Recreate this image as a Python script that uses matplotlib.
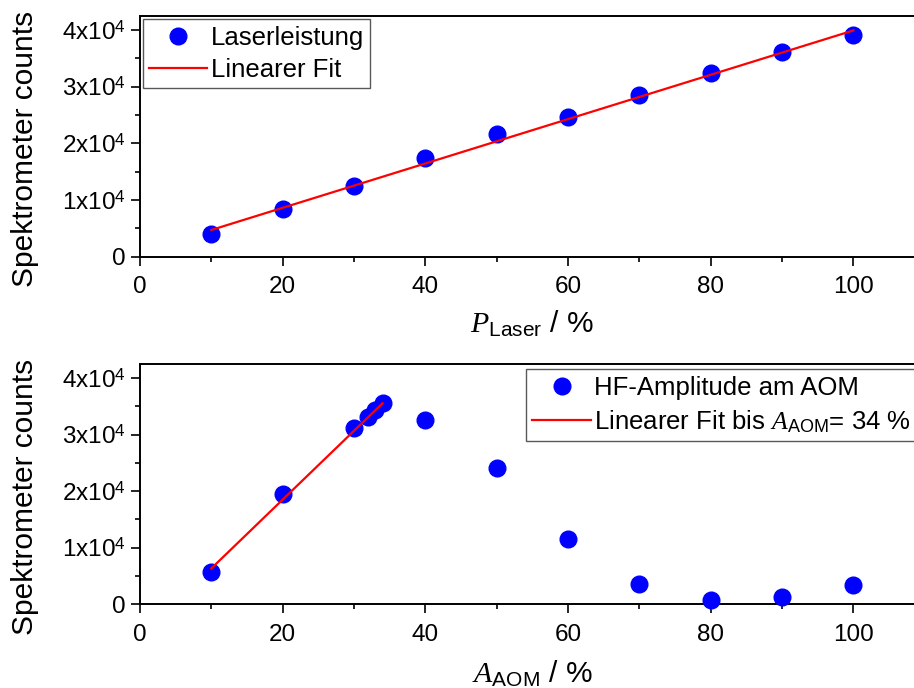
import matplotlib
matplotlib.use("Agg")
import matplotlib.pyplot as plt
from matplotlib.ticker import FixedLocator, FixedFormatter, MultipleLocator

plt.rcParams['font.family'] = ['Liberation Sans', 'DejaVu Sans']
plt.rcParams['mathtext.fontset'] = 'custom'
plt.rcParams['mathtext.rm'] = 'Liberation Sans'
plt.rcParams['mathtext.it'] = 'Liberation Serif:italic'
plt.rcParams['mathtext.bf'] = 'Liberation Sans:bold'

# ---- data ----
laser_x = [10, 20, 30, 40, 50, 60, 70, 80, 90, 100]
laser_y = [3960, 8440, 12570, 17350, 21660, 24600, 28620, 32390, 36170, 39060]
laser_fit_x = [10, 100]
laser_fit_y = [4720, 39950]

aom_x = [10, 20, 30, 32, 33, 34, 40, 50, 60, 70, 80, 90, 100]
aom_y = [5750, 19420, 31240, 33100, 34300, 35600, 32530, 24120, 11530, 3590, 750, 1240, 3410]
aom_fit_x = [10, 34]
aom_fit_y = [6350, 35550]

yticks = [0, 10000, 20000, 30000, 40000]
ytick_labels = ['0', r'1x10$^{4}$', r'2x10$^{4}$', r'3x10$^{4}$', r'4x10$^{4}$']
xticks = [0, 20, 40, 60, 80, 100]
xtick_labels = ['0', '20', '40', '60', '80', '100']

W, H = 914, 688
fig = plt.figure(figsize=(W / 100, H / 100), dpi=100)

x0 = 140 / W
wid = (924.7 - 140) / W
ax1 = fig.add_axes([x0, (H - 256.7) / H, wid, 240.7 / H])
ax2 = fig.add_axes([x0, (H - 604.3) / H, wid, 240.3 / H])

blue = '#0000ff'
red = '#ff0000'
tick_fs = 17.5
leg_fs = 18.5
lab_fs = 21.5

for ax in (ax1, ax2):
    ax.set_xlim(0, 110)
    ax.set_ylim(0, 42500)
    ax.xaxis.set_major_locator(FixedLocator(xticks))
    ax.xaxis.set_major_formatter(FixedFormatter(xtick_labels))
    ax.xaxis.set_minor_locator(MultipleLocator(10))
    ax.yaxis.set_major_locator(FixedLocator(yticks))
    ax.yaxis.set_major_formatter(FixedFormatter(ytick_labels))
    ax.yaxis.set_minor_locator(MultipleLocator(5000))
    ax.tick_params(which='major', direction='out', length=6.5, width=1.2,
                   labelsize=tick_fs)
    ax.tick_params(axis='y', which='major', pad=4)
    ax.tick_params(axis='x', which='major', pad=7.5)
    ax.tick_params(which='minor', direction='out', length=3.5, width=1.2)
    ax.tick_params(top=False, right=False)
    for s in ax.spines.values():
        s.set_linewidth(1.4)
    ax.set_ylabel('Spektrometer counts', fontsize=lab_fs)
    ax.yaxis.set_label_coords(-0.129, 0.447)

leg_kw = dict(borderaxespad=0, fontsize=leg_fs, numpoints=1, handlelength=2.27,
              handletextpad=0.12, labelspacing=0.32, borderpad=0.25, fancybox=False,
              framealpha=1, edgecolor='0.35')

# top panel
ax1.plot(laser_x, laser_y, 'o', color=blue, markersize=12, label='Laserleistung',
         zorder=3, clip_on=False)
ax1.plot(laser_fit_x, laser_fit_y, '-', color=red, linewidth=1.6, label='Linearer Fit', zorder=4)
ax1.set_xlabel(r'$\mathit{P}_{\mathrm{Laser}}$ / %', fontsize=lab_fs)
ax1.xaxis.set_label_coords(392.4 / 784.7, -0.215)
leg1 = ax1.legend(loc='upper left', bbox_to_anchor=(0.0034, 0.986), **leg_kw)
leg1.get_frame().set_linewidth(1.0)

# bottom panel
ax2.plot(aom_x, aom_y, 'o', color=blue, markersize=12, label='HF-Amplitude am AOM',
         zorder=3, clip_on=False)
ax2.plot(aom_fit_x, aom_fit_y, '-', color=red, linewidth=1.6,
         label=r'Linearer Fit bis $\mathit{A}_{\mathrm{AOM}}$= 34 %', zorder=4)
ax2.set_xlabel(r'$\mathit{A}_{\mathrm{AOM}}$ / %', fontsize=lab_fs)
ax2.xaxis.set_label_coords(392.4 / 784.7, -0.225)
leg2 = ax2.legend(loc='upper left', bbox_to_anchor=(0.492, 0.978), **leg_kw)
leg2.get_frame().set_linewidth(1.0)

fig.savefig('out.png', dpi=100)
